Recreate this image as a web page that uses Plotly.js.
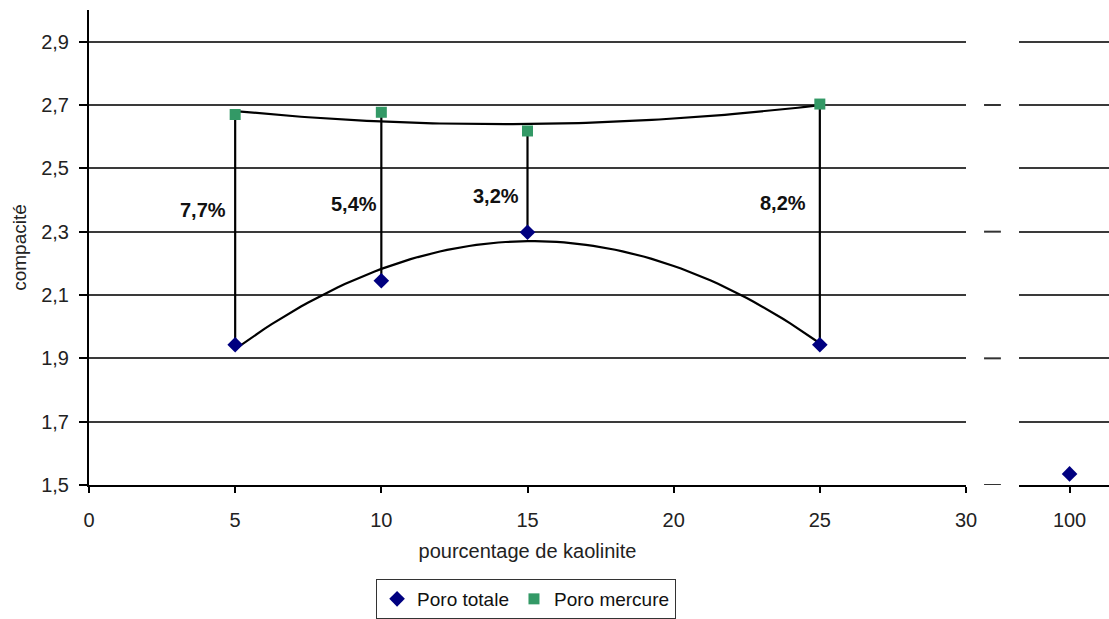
<!DOCTYPE html>
<html>
<head>
<meta charset="utf-8">
<script src="https://cdn.plot.ly/plotly-3.0.1.min.js"></script>
<style>html,body{margin:0;padding:0;background:#fff;}#chart{width:1109px;height:619px;}</style>
</head>
<body>
<div id="chart"></div>
<script>
// ---- data ----
const kaolinite = [5, 10, 15, 25];
const poroTotale = [1.943, 2.145, 2.298, 1.943];
const poroMercure = [2.670, 2.677, 2.618, 2.703];
const kaoliniteBreak = [100];
const poroTotaleBreak = [1.535];
const gapLabels = ['7,7%', '5,4%', '3,2%', '8,2%'];
const gapLabelX = [3.9, 9.07, 13.92, 23.74];
const gapLabelY = [2.369, 2.387, 2.412, 2.39];
const xTicks = [0, 5, 10, 15, 20, 25, 30];
const xBreakTicks = [100];
const yTicks = [1.5, 1.7, 1.9, 2.1, 2.3, 2.5, 2.7, 2.9];
const breakRows = [2.7, 2.3, 1.9, 1.5];

// quadratic least-squares trendline (like the spreadsheet's polynomial trend)
function quadFit(xs, ys) {
  let S = [0,0,0,0,0], T = [0,0,0];
  for (let i = 0; i < xs.length; i++) {
    let p = 1;
    for (let k = 0; k < 5; k++) { S[k] += p; if (k < 3) T[k] += p * ys[i]; p *= xs[i]; }
  }
  const A = [[S[0],S[1],S[2],T[0]],[S[1],S[2],S[3],T[1]],[S[2],S[3],S[4],T[2]]];
  for (let c = 0; c < 3; c++) {
    for (let r = c + 1; r < 3; r++) {
      const f = A[r][c] / A[c][c];
      for (let k = c; k < 4; k++) A[r][k] -= f * A[c][k];
    }
  }
  const co = [0,0,0];
  for (let r = 2; r >= 0; r--) {
    let s = A[r][3];
    for (let k = r + 1; k < 3; k++) s -= A[r][k] * co[k];
    co[r] = s / A[r][r];
  }
  return co;
}
function trend(xs, ys) {
  const co = quadFit(xs, ys);
  const x0 = Math.min(...xs), x1 = Math.max(...xs);
  const tx = [], ty = [];
  for (let i = 0; i <= 80; i++) {
    const x = x0 + (x1 - x0) * i / 80;
    tx.push(x); ty.push(co[0] + co[1] * x + co[2] * x * x);
  }
  return {x: tx, y: ty};
}

const tT = trend(kaolinite, poroTotale);
const tM = trend(kaolinite, poroMercure);

const dropX = [], dropY = [];
kaolinite.forEach((k, i) => { dropX.push(k, k, null); dropY.push(poroTotale[i], poroMercure[i], null); });

const FONT = 'Liberation Sans, Arial, sans-serif';

const traces = [
  {x: tT.x, y: tT.y, mode: 'lines', line: {color: '#000', width: 2.2}, showlegend: false, hoverinfo: 'skip'},
  {x: tM.x, y: tM.y, mode: 'lines', line: {color: '#000', width: 2.2}, showlegend: false, hoverinfo: 'skip'},
  {x: dropX, y: dropY, mode: 'lines', line: {color: '#000', width: 2.2}, showlegend: false, hoverinfo: 'skip'},
  {x: kaolinite, y: poroTotale, name: 'Poro totale', mode: 'markers',
   marker: {symbol: 'diamond', color: '#000080', size: 12}},
  {x: kaolinite, y: poroMercure, name: 'Poro mercure', mode: 'markers',
   marker: {symbol: 'square', color: '#339966', size: 11}},
  {x: kaoliniteBreak, y: poroTotaleBreak, name: 'Poro totale', mode: 'markers', xaxis: 'x2', yaxis: 'y',
   marker: {symbol: 'diamond', color: '#000080', size: 12}, showlegend: false}
];

const annotations = gapLabels.map((t, i) => ({
  x: gapLabelX[i], y: gapLabelY[i], xref: 'x', yref: 'y', text: '<b>' + t + '</b>',
  showarrow: false, font: {family: FONT, size: 20, color: '#111'}
}));

const shapes = breakRows.map(v => ({
  type: 'line', xref: 'paper', yref: 'y', x0: 0.8775, x1: 0.894, y0: v, y1: v,
  line: {color: '#333', width: 2}
}));

const layout = {
  width: 1109, height: 619,
  margin: {l: 89, r: 0, t: 10, b: 131},
  paper_bgcolor: '#fff', plot_bgcolor: '#fff',
  separators: ', ',
  font: {family: FONT, size: 20, color: '#222'},
  showlegend: true,
  legend: {orientation: 'h', x: 0.4285, xanchor: 'center', y: -0.199, yanchor: 'top',
           bordercolor: '#333', borderwidth: 1, font: {family: FONT, size: 19, color: '#111'},
           itemwidth: 30, tracegroupgap: 0},
  xaxis: {domain: [0, 0.8598], range: [0, 30], tickvals: xTicks, ticktext: xTicks.map(String),
          showgrid: false, zeroline: false, showline: true, linecolor: '#000', linewidth: 2,
          ticks: 'outside', ticklen: 6, tickcolor: '#000', tickwidth: 2, ticklabelstandoff: 10,
          tickfont: {family: FONT, size: 20, color: '#222'},
          title: {text: 'pourcentage de kaolinite', font: {family: FONT, size: 20, color: '#222'}, standoff: 14}},
  xaxis2: {domain: [0.9118, 1], range: [98.288, 101.336], tickvals: xBreakTicks, ticktext: ['100'],
           anchor: 'y', showgrid: false, zeroline: false, showline: true, linecolor: '#000', linewidth: 2,
           ticks: 'outside', ticklen: 6, tickcolor: '#000', tickwidth: 2, ticklabelstandoff: 10,
           tickfont: {family: FONT, size: 20, color: '#222'}},
  yaxis: {range: [1.5, 3.0], tickvals: yTicks, tickformat: '.1f', anchor: 'x',
          showgrid: true, gridcolor: '#3a3a3a', gridwidth: 2, zeroline: false,
          showline: true, linecolor: '#000', linewidth: 2,
          ticks: 'outside', ticklen: 8, tickcolor: '#000', tickwidth: 2, ticklabelstandoff: 6,
          tickfont: {family: FONT, size: 20, color: '#222'},
          title: {text: 'compacité', font: {family: FONT, size: 19, color: '#222'}, standoff: 10}},
  annotations: annotations,
  shapes: shapes
};

Plotly.newPlot('chart', traces, layout, {displayModeBar: false, staticPlot: true});
</script>
</body>
</html>
